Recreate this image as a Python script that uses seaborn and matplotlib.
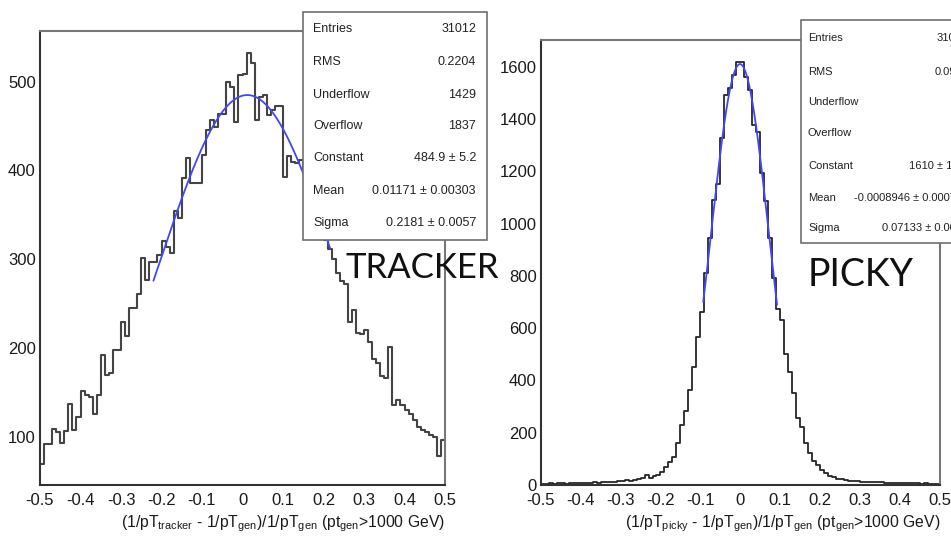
import numpy as np
import matplotlib
matplotlib.use("Agg")
import matplotlib.pyplot as plt
from matplotlib.patches import Rectangle
from matplotlib.ticker import MultipleLocator, FuncFormatter
import seaborn as sns

# binning shared by both histograms
x_lo, x_hi, n_bins = -0.5, 0.5, 100

# bin contents
tracker_counts = [70, 92, 92, 109, 105, 93, 107, 137, 108, 122,
                  152, 147, 145, 126, 147, 192, 170, 172, 198, 198,
                  229, 214, 245, 245, 261, 301, 277, 297, 297, 305,
                  320, 314, 307, 354, 346, 391, 414, 386, 386, 386,
                  417, 446, 457, 449, 464, 464, 500, 494, 455, 508,
                  509, 532, 521, 457, 483, 485, 462, 468, 472, 472,
                  393, 416, 410, 408, 412, 400, 385, 370, 350, 335,
                  322, 312, 300, 285, 275, 272, 229, 243, 217, 216,
                  220, 207, 188, 183, 168, 166, 201, 136, 141, 136,
                  130, 126, 119, 111, 108, 106, 102, 100, 78, 97]

picky_counts = [5, 4, 6, 5, 7, 6, 5, 8, 6, 7,
                8, 7, 9, 10, 8, 11, 12, 10, 13, 14,
                15, 18, 17, 20, 22, 28, 38, 26, 33, 38,
                48, 68, 88, 108, 159, 230, 282, 363, 450, 565,
                660, 809, 943, 1090, 1153, 1326, 1491, 1517, 1568, 1619,
                1619, 1560, 1512, 1378, 1352, 1193, 1085, 945, 792, 675,
                630, 500, 433, 350, 258, 220, 160, 122, 93, 77,
                57, 45, 33, 29, 24, 22, 19, 17, 15, 14,
                13, 12, 12, 11, 10, 10, 9, 9, 8, 8,
                7, 7, 6, 7, 6, 5, 6, 5, 4, 5]

# gaus fit results as printed in the stat boxes, plus the fit range
tracker_fit = dict(const=484.9, mean=0.01171, sigma=0.2181, lo=-0.22, hi=0.216)
picky_fit = dict(const=1610, mean=-0.0008946, sigma=0.07133, lo=-0.093, hi=0.092)

tracker_stats = [("Entries", "31012"), ("RMS", "0.2204"), ("Underflow", "1429"),
                 ("Overflow", "1837"), ("Constant", "484.9 ± 5.2"),
                 ("Mean", "0.01171 ± 0.00303"), ("Sigma", "0.2181 ± 0.0057")]
# right box runs off the edge of the picture, only the start of the values shows
picky_stats = [("Entries", "31012"), ("RMS", "0.0922"), ("Underflow", "64"),
               ("Overflow", "76"), ("Constant", "1610 ± 12.1"),
               ("Mean", "-0.0008946 ± 0.000731"), ("Sigma", "0.07133 ± 0.0005")]

tracker_xlabel = r"(1/pT$_{\mathrm{tracker}}$ - 1/pT$_{\mathrm{gen}}$)/1/pT$_{\mathrm{gen}}$ (pt$_{\mathrm{gen}}$>1000 GeV)"
picky_xlabel = r"(1/pT$_{\mathrm{picky}}$ - 1/pT$_{\mathrm{gen}}$)/1/pT$_{\mathrm{gen}}$ (pt$_{\mathrm{gen}}$>1000 GeV)"

sns.set_style("white")
plt.rcParams['font.family'] = ['Liberation Sans', 'DejaVu Sans']
plt.rcParams['mathtext.fontset'] = 'custom'
plt.rcParams['mathtext.rm'] = 'Liberation Sans'
plt.rcParams['axes.unicode_minus'] = False

W, H = 951, 539
fig = plt.figure(figsize=(W / 100, H / 100), dpi=100)


def fx(x):
    return x / W


def fy(y):
    return 1 - y / H


def draw_panel(ax, counts, fit, ylim, ymajor, yminor, xlabel, hist_color, lw):
    centers = x_lo + (np.arange(n_bins) + 0.5) * (x_hi - x_lo) / n_bins
    sns.histplot(x=centers, weights=counts, bins=n_bins, binrange=(x_lo, x_hi),
                 element="step", fill=False, color=hist_color, linewidth=lw, ax=ax)
    xf = np.linspace(fit["lo"], fit["hi"], 200)
    yf = fit["const"] * np.exp(-0.5 * ((xf - fit["mean"]) / fit["sigma"]) ** 2)
    sns.lineplot(x=xf, y=yf, color="#4444ff", linewidth=1.3, ax=ax, estimator=None, sort=False)

    ax.set_xlim(x_lo, x_hi)
    ax.set_ylim(*ylim)
    ax.set_ylabel("")
    ax.xaxis.set_major_locator(MultipleLocator(0.1))
    ax.xaxis.set_minor_locator(MultipleLocator(0.02))
    ax.yaxis.set_major_locator(MultipleLocator(ymajor))
    ax.yaxis.set_minor_locator(MultipleLocator(yminor))
    ax.xaxis.set_major_formatter(FuncFormatter(lambda v, p: f"{round(v, 1) + 0.0:g}"))
    ax.yaxis.set_major_formatter(FuncFormatter(lambda v, p: f"{int(round(v))}"))
    ax.tick_params(which="both", direction="in", top=False, right=False,
                   colors="#333333", labelcolor="#1a1a1a", labelsize=12)
    ax.tick_params(which="major", length=8.5, width=1.2)
    ax.tick_params(which="minor", length=3.6, width=1.0)
    ax.tick_params(axis="x", pad=6)
    ax.tick_params(axis="y", pad=3)
    for side, sp in ax.spines.items():
        sp.set_visible(True)
        sp.set_color("#333333" if side in ("left", "bottom") else "#777777")
        sp.set_linewidth(1.5)
    ax.set_xlabel(xlabel, fontsize=11.3, color="#1a1a1a", ha="right", va="center")
    ax.xaxis.set_label_coords(1.0, -39 / (ax.get_position().height * H))
    ax.grid(False)


def stat_box(x0, y0, x1, y1, rows, row_y, label_x, value_x, size):
    fig.add_artist(Rectangle((fx(x0), fy(y1)), fx(x1) - fx(x0), fy(y0) - fy(y1),
                             transform=fig.transFigure, facecolor="white",
                             edgecolor="#707070", linewidth=1.2, zorder=5))
    for (name, val), yy in zip(rows, row_y):
        fig.text(fx(label_x), fy(yy), name, ha="left", va="center",
                 fontsize=size, color="#222222", zorder=6)
        fig.text(fx(value_x), fy(yy), val, ha="right", va="center",
                 fontsize=size, color="#222222", zorder=6)


ax1 = fig.add_axes([fx(40), fy(485), fx(445) - fx(40), fy(31) - fy(485)])
draw_panel(ax1, tracker_counts, tracker_fit, (45.8, 557), 100, 20, tracker_xlabel, "#444444", 1.5)

ax2 = fig.add_axes([fx(540.7), fy(485), fx(940) - fx(540.7), fy(40) - fy(485)])
draw_panel(ax2, picky_counts, picky_fit, (0, 1702), 200, 50, picky_xlabel, "#262626", 1.3)

stat_box(303, 12, 487, 240, tracker_stats, [29, 62, 95, 126, 158, 191, 223], 313, 476, 9)
stat_box(801, 20, 985, 243, picky_stats, [38, 72, 102, 133, 166, 198, 228], 808, 968, 8)

fig.text(fx(345), fy(278), "TRACKER", fontsize=25, family=["Lato", "DejaVu Sans"],
         color="#111111", ha="left", va="baseline", zorder=7)
fig.text(fx(808), fy(286), "PICKY", fontsize=27, family=["Lato", "DejaVu Sans"],
         color="#111111", ha="left", va="baseline", zorder=7)

fig.savefig("out.png", dpi=100)
